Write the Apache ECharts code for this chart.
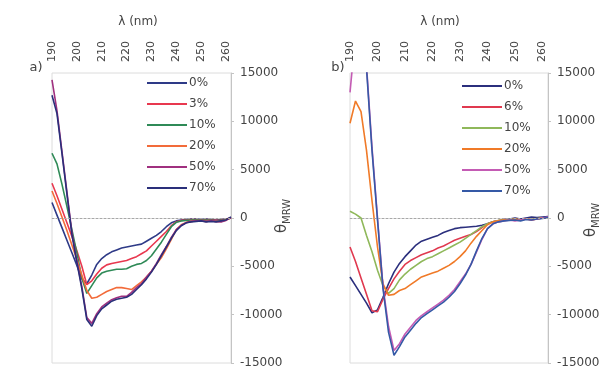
<!DOCTYPE html>
<html>
<head>
    <meta charset="utf-8"/>
    <style>
        html, body {
            height: 100%;
            margin: 0;
            padding: 0;
            background: #fff;
        }

        .container {
            width: 605px;
            height: 369px;
        }
    </style>
</head>
<body>
<div id="main" class="container"></div>
<script src="https://cdn.jsdelivr.net/npm/echarts@6/dist/echarts.min.js"></script>
<script type="text/javascript">
// wavelength (nm)
var wl = [190, 192, 194, 196, 198, 200, 202, 204, 206, 208, 210, 212, 214, 216, 218, 220, 222, 224, 226,
    228, 230, 232, 234, 236, 238, 240, 242, 244, 246, 248, 250, 252, 254, 256, 258, 260, 262];

// panel a) curves, theta MRW
var a0 = [1600, 300, -1000, -2300, -3600, -4900, -6300, -6800, -5900, -4800, -4200, -3800, -3500, -3300, -3100,
    -3000, -2900, -2800, -2700, -2400, -2100, -1800, -1400, -900, -500, -300, -200, -150, -100, -100, -150, -100,
    -150, -200, -150, -100, 0];
var a3 = [3600, 2300, 900, -500, -1900, -3400, -5000, -6900, -6500, -5800, -5200, -4850, -4700, -4600, -4500,
    -4400, -4200, -4000, -3700, -3400, -2900, -2400, -1900, -1400, -800, -400, -250, -200, -150, -150, -200, -150,
    -200, -250, -200, -100, 0];
var a10 = [6700, 5600, 3500, 1200, -1200, -3600, -6200, -7800, -7000, -6200, -5700, -5500, -5400, -5300, -5300,
    -5250, -5000, -4800, -4700, -4400, -3900, -3200, -2500, -1700, -900, -450, -300, -250, -200, -200, -250, -200,
    -250, -300, -250, -150, 0];
var a20 = [2800, 1500, 100, -1300, -2800, -4300, -5900, -7500, -8300, -8200, -7900, -7600, -7400, -7200, -7200,
    -7300, -7400, -7000, -6600, -6100, -5500, -4800, -4100, -3200, -2200, -1200, -700, -450, -350, -300, -300, -350,
    -300, -350, -350, -200, 50];
var a50 = [14300, 11100, 6900, 2700, -1500, -4400, -7100, -10300, -10900, -9900, -9200, -8800, -8450, -8250, -8100,
    -8100, -7700, -7200, -6800, -6100, -5500, -4700, -3800, -2950, -2000, -1200, -750, -500, -350, -300, -300, -350,
    -300, -350, -400, -250, 50];
var a70 = [12700, 10800, 6700, 2500, -1700, -4600, -7300, -10500, -11200, -10100, -9400, -9000, -8600, -8400, -8300,
    -8200, -7900, -7400, -6900, -6300, -5600, -4800, -3900, -3000, -2100, -1300, -800, -500, -400, -350, -300, -400,
    -350, -400, -300, -200, 100];

// panel b) curves, theta MRW
var b0 = [-6100, -7000, -7900, -8800, -9800, -9500, -8200, -6800, -5600, -4700, -4000, -3400, -2800, -2400, -2200,
    -2000, -1800, -1500, -1300, -1100, -1000, -950, -900, -850, -750, -600, -400, -300, -150, -100, 0, -100,
    0, 100, 50, 100, 150];
var b6 = [-3000, -4500, -6200, -7900, -9600, -9700, -8400, -7300, -6300, -5500, -4800, -4400, -4100, -3800, -3600,
    -3400, -3100, -2900, -2600, -2300, -2100, -1900, -1700, -1400, -1000, -600, -400, -250, -150, -200, -100, -200,
    -100, -150, -100, 0, 0];
var b10 = [700, 400, 0, -1800, -3500, -5400, -7000, -7800, -7300, -6400, -5800, -5300, -4900, -4500, -4200,
    -4000, -3700, -3400, -3100, -2800, -2500, -2100, -1700, -1300, -900, -600, -400, -250, -200, -150, -100, -200,
    -100, -150, -50, 0, 50];
var b20 = [9800, 12100, 11000, 7000, 1800, -3000, -6800, -8000, -7900, -7500, -7300, -6900, -6500, -6100, -5900,
    -5700, -5500, -5200, -4900, -4500, -4000, -3400, -2600, -1900, -1300, -700, -400, -300, -200, -200, -100, -200,
    -100, -200, -100, 0, 0];
var b50 = [13000, 19000, 20000, 15800, 7300, 0, -7100, -11200, -13700, -13000, -12000, -11300, -10600, -10100, -9700,
    -9300, -8900, -8500, -8000, -7400, -6600, -5800, -4800, -3500, -2200, -1100, -600, -400, -300, -200, -300, -200,
    -100, -200, -100, 0, 100];
var b70 = [17000, 21000, 20500, 15500, 7000, -200, -7300, -11800, -14200, -13300, -12300, -11600, -10900, -10300, -9900,
    -9500, -9100, -8700, -8200, -7600, -6800, -5900, -4800, -3400, -2100, -1100, -600, -400, -300, -250, -200, -300,
    -150, -200, -100, -50, 50];

var aNames = ['0%', '3%', '10%', '20%', '50%', '70%'];
var bNames = ['0%', '6%', '10%', '20%', '50%', '70%'];
var aColors = ['#2e3a87', '#e8384f', '#2f8a57', '#f26b3a', '#a0307f', '#2a2f7a'];
var bColors = ['#2b2f7d', '#e0394f', '#8fb85a', '#f07a28', '#c45bb4', '#3559a6'];

var textColor = '#444';
var font = 'DejaVu Sans';

function pairs(vals) {
    var out = [];
    for (var i = 0; i < wl.length; i++) {
        out.push([wl[i], vals[i]]);
    }
    return out;
}

function xAxisFor(idx) {
    return {
        type: 'value',
        gridIndex: idx,
        position: 'top',
        min: 190,
        max: 262,
        interval: 10,
        axisLine: {show: true, lineStyle: {color: '#d8d8d8'}},
        axisTick: {show: false},
        splitLine: {show: false},
        axisLabel: {
            rotate: 90,
            margin: 11,
            fontSize: 11,
            fontFamily: font,
            color: textColor,
            formatter: function (v) {
                return v % 10 === 0 ? String(v) : '';
            }
        }
    };
}

function yAxisFor(idx) {
    return {
        type: 'value',
        gridIndex: idx,
        position: 'right',
        min: -15000,
        max: 15000,
        interval: 5000,
        axisLine: {show: true, onZero: false, lineStyle: {color: '#c4c4c4'}},
        axisTick: {show: true, inside: false, length: 3, lineStyle: {color: '#c4c4c4'}},
        splitLine: {show: false},
        axisLabel: {
            margin: 9,
            fontSize: 12,
            fontFamily: font,
            color: textColor,
            formatter: function (v) {
                return String(v);
            }
        }
    };
}

var series = [];
var panels = [
    {prefix: 'a', names: aNames, colors: aColors, data: [a0, a3, a10, a20, a50, a70]},
    {prefix: 'b', names: bNames, colors: bColors, data: [b0, b6, b10, b20, b50, b70]}
];

for (var p = 0; p < panels.length; p++) {
    // dotted zero line under the curves
    series.push({
        name: 'zero' + p,
        type: 'line',
        xAxisIndex: p,
        yAxisIndex: p,
        data: [],
        silent: true,
        z: 1,
        markLine: {
            silent: true,
            symbol: ['none', 'none'],
            label: {show: false},
            lineStyle: {color: '#a8a8a8', type: [2, 2], width: 1},
            data: [{yAxis: 0}]
        }
    });
    for (var k = 0; k < panels[p].names.length; k++) {
        series.push({
            name: panels[p].prefix + panels[p].names[k],
            type: 'line',
            xAxisIndex: p,
            yAxisIndex: p,
            symbol: 'none',
            clip: true,
            z: 2,
            lineStyle: {width: 1.6, color: panels[p].colors[k]},
            itemStyle: {color: panels[p].colors[k]},
            data: pairs(panels[p].data[k])
        });
    }
}

function legendFor(p, left, top) {
    var items = [];
    for (var k = 0; k < panels[p].names.length; k++) {
        items.push(panels[p].prefix + panels[p].names[k]);
    }
    return {
        orient: 'vertical',
        left: left,
        top: top,
        padding: 0,
        icon: 'rect',
        itemWidth: 40,
        itemHeight: 2,
        itemGap: 7,
        selectedMode: false,
        data: items,
        formatter: function (name) {
            return name.slice(1);
        },
        textStyle: {fontSize: 12, lineHeight: 14, fontFamily: font, color: textColor, padding: [0, 0, 0, -3]}
    };
}

function thetaLabel(x, y) {
    return {
        type: 'text',
        x: x,
        y: y,
        rotation: Math.PI / 2,
        style: {
            text: '{t|θ}{s|MRW}',
            align: 'center',
            verticalAlign: 'middle',
            fill: textColor,
            rich: {
                t: {fontSize: 15, fontFamily: font, fill: textColor, lineHeight: 20, verticalAlign: 'middle'},
                s: {fontSize: 10, fontFamily: font, fill: textColor, lineHeight: 20, verticalAlign: 'bottom'}
            }
        }
    };
}

function plainText(x, y, text, size) {
    return {
        type: 'text',
        x: x,
        y: y,
        style: {
            text: text,
            align: 'center',
            verticalAlign: 'middle',
            fontSize: size,
            fontFamily: font,
            fill: textColor
        }
    };
}

var chart = echarts.init(document.getElementById('main'), null, {renderer: 'canvas'});

var option = {
    backgroundColor: '#fff',
    animation: false,
    grid: [
        {left: 52, top: 73, width: 179, height: 292, show: true, borderColor: '#dcdcdc', borderWidth: 1},
        {left: 350, top: 73, width: 198, height: 294, show: true, borderColor: '#dcdcdc', borderWidth: 1}
    ],
    xAxis: [xAxisFor(0), xAxisFor(1)],
    yAxis: [yAxisFor(0), yAxisFor(1)],
    legend: [legendFor(0, 147, 76), legendFor(1, 462, 79)],
    graphic: [
        plainText(138, 22, 'λ (nm)', 12),
        plainText(440, 22, 'λ (nm)', 12),
        plainText(36, 68, 'a)', 13),
        plainText(338, 68, 'b)', 13),
        thetaLabel(282, 216),
        thetaLabel(591, 220)
    ],
    series: series
};

chart.setOption(option);
</script>
</body>
</html>
